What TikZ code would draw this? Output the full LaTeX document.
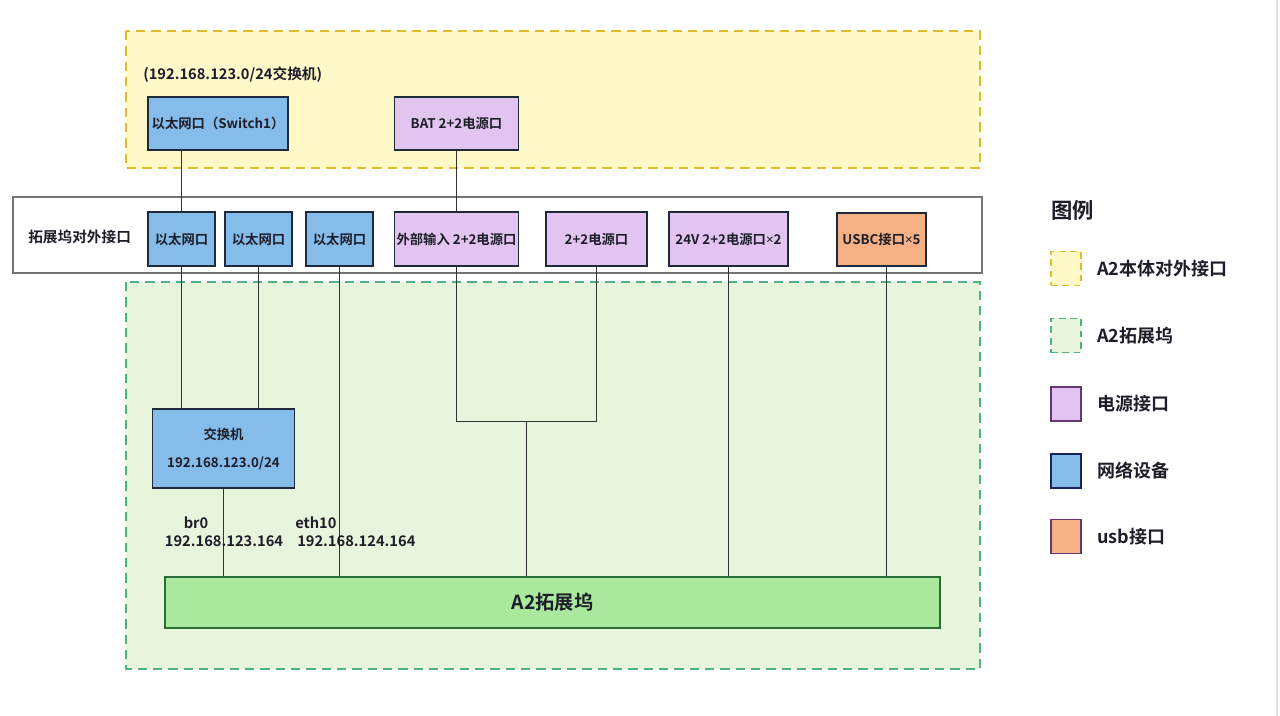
\documentclass[tikz,border=0pt]{standalone}
\usepackage{fontspec}
\setmainfont{Noto Sans CJK SC}[BoldFont={Noto Sans CJK SC Bold}]
\newfontfamily\latinsans{Noto Sans}
\newcommand{\mult}{{\latinsans\bfseries ×}}
\usetikzlibrary{positioning, calc}

\definecolor{ylwfill}{RGB}{255,248,200}
\definecolor{ylwline}{RGB}{222,190,40}
\definecolor{grnfill}{RGB}{232,245,221}
\definecolor{grnline}{RGB}{76,180,128}
\definecolor{netfill}{RGB}{133,188,233}
\definecolor{netline}{RGB}{30,42,58}
\definecolor{pwrfill}{RGB}{226,196,240}
\definecolor{pwrline}{RGB}{100,55,115}
\definecolor{usbfill}{RGB}{245,177,131}
\definecolor{dockfill}{RGB}{169,232,157}
\definecolor{dockline}{RGB}{40,110,50}
\definecolor{txt}{RGB}{30,30,42}

\begin{document}
\begin{tikzpicture}[
  x=0.75pt, y=-0.75pt,
  % ---- Style definitions ----
  zone/.style={
    draw, line width=1.5pt, dash pattern=on 7pt off 4.5pt
  },
  port/.style={
    draw=netline, line width=1.1pt, minimum height=53*0.75pt,
    inner sep=1pt, align=center, text=txt,
    font=\fontsize{10}{12}\selectfont\bfseries
  },
  netbox/.style={port, fill=netfill},
  pwrbox/.style={port, fill=pwrfill},
  usbbox/.style={port, fill=usbfill},
  wire/.style={draw=black!80, line width=0.75pt},
  lbl/.style={text=txt, inner sep=0pt,
    font=\fontsize{11}{14}\selectfont\bfseries},
  keybox/.style={minimum width=30*0.75pt, minimum height=34*0.75pt, line width=1.1pt},
  keytxt/.style={text=txt, anchor=west, inner sep=0pt,
    font=\fontsize{13.5}{16}\selectfont\bfseries},
]

\useasboundingbox (0,0) rectangle (1280,716);
\fill[white] (0,0) rectangle (1280,716);
\draw[black!12, line width=0.8pt] (1277,0) -- (1277,716);

% ---- Zones ----
\filldraw[zone, fill=ylwfill, draw=ylwline] (126,31) rectangle (980,168);
\filldraw[zone, fill=grnfill, draw=grnline] (126,282) rectangle (980,669);
\node[draw=black!55, line width=0.9pt, fill=white,
      minimum width=969*0.75pt, minimum height=76*0.75pt] (band) at (497.5,235) {};

\node[lbl, anchor=west] (ylwtitle) at (143,75) {(192.168.123.0/24交换机)};
\node[lbl, anchor=west] (bandtitle) at (28,237) {拓展坞对外接口};

% ---- A2 body ports ----
\node[netbox, minimum width=140*0.75pt] (sw1) at (218,123.5) {以太网口（Switch1）};
\node[pwrbox, minimum width=124*0.75pt] (bat) at (456.5,123.5) {BAT 2+2电源口};

% ---- Dock ports (left to right) ----
\node[netbox, minimum width=67*0.75pt, minimum height=54*0.75pt] (eth1) at (181.5,239) {以太网口};
\node[netbox, minimum width=67*0.75pt, minimum height=54*0.75pt] (eth2) at (258.5,239) {以太网口};
\node[netbox, minimum width=67*0.75pt, minimum height=54*0.75pt] (eth3) at (339.5,239) {以太网口};
\node[pwrbox, minimum width=124*0.75pt, minimum height=54*0.75pt] (extin) at (456.5,239) {外部输入 2+2电源口};
\node[pwrbox, minimum width=101*0.75pt, minimum height=54*0.75pt] (pw22) at (596.5,239) {2+2电源口};
\node[pwrbox, minimum width=119*0.75pt, minimum height=54*0.75pt] (pw24) at (728.5,239) {24V 2+2电源口\mult2};
\node[usbbox, minimum width=89*0.75pt] (usbc) at (881.5,239.5) {USBC接口\mult5};

% ---- Switch and dock bar ----
\node[netbox, minimum width=142*0.75pt, minimum height=79*0.75pt,
      font=\fontsize{10}{21}\selectfont\bfseries] (swt) at (223.5,448.5) {交换机\\192.168.123.0/24};
\node[draw=dockline, fill=dockfill, line width=1.1pt, text=txt,
      minimum width=775*0.75pt, minimum height=51*0.75pt,
      font=\fontsize{14.5}{17}\selectfont\bfseries] (dock) at (552.5,602.5) {A2拓展坞};

\coordinate (pwrjoin) at (526.5,421.5);

% ---- Wires ----
\draw[wire] (sw1.south -| eth1) -- (eth1.north);
\draw[wire] (bat.south) -- (extin.north);
\draw[wire] (eth1.south) -- (eth1.south |- swt.north);
\draw[wire] (eth2.south) -- (eth2.south |- swt.north);
\draw[wire] (eth3.south) -- (eth3.south |- dock.north);
\draw[wire] (swt.south) -- (swt.south |- dock.north);
\draw[wire] (extin.south) -- (extin.south |- pwrjoin) -- (pw22.south |- pwrjoin) -- (pw22.south);
\draw[wire] (pwrjoin) -- (pwrjoin |- dock.north);
\draw[wire] (pw24.south) -- (pw24.south |- dock.north);
\draw[wire] ([xshift=4.1pt]usbc.south) -- ([xshift=4.1pt]usbc.south |- dock.north);

% ---- Interface labels ----
\node[lbl] (brname) at (196,523) {br0};
\node[lbl] (brip) at (224,541) {192.168.123.164};
\node[lbl, anchor=west] (ethname) at (295,523) {eth10};
\node[lbl, anchor=west] (ethip) at (297,541) {192.168.124.164};

% ---- Legend ----
\node[text=txt, anchor=west, inner sep=0pt,
      font=\fontsize{16}{18}\selectfont\bfseries] (keytitle) at (1051,210) {图例};
\node[keybox, fill=ylwfill, draw=ylwline, dash pattern=on 5pt off 3.5pt] (key1) at (1066,268.5) {};
\node[keytxt] at (1097,268.5) {A2本体对外接口};
\node[keybox, fill=grnfill, draw=grnline, dash pattern=on 5pt off 3.5pt] (key2) at (1066,335.5) {};
\node[keytxt] at (1097,335.5) {A2拓展坞};
\node[keybox, fill=pwrfill, draw=pwrline] (key3) at (1066,404) {};
\node[keytxt] at (1097,404) {电源接口};
\node[keybox, fill=netfill, draw=netline!80!blue] (key4) at (1066,471) {};
\node[keytxt] at (1097,471) {网络设备};
\node[keybox, fill=usbfill, draw=pwrline] (key5) at (1066,536.5) {};
\node[keytxt] at (1097,536.5) {usb接口};

\end{tikzpicture}
\end{document}
